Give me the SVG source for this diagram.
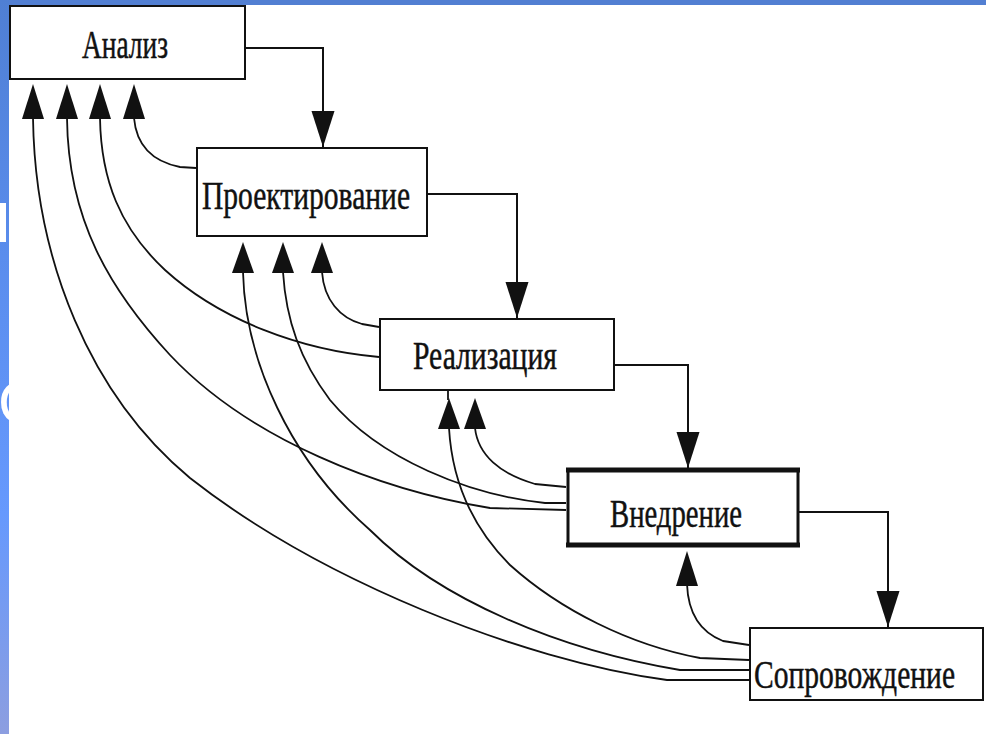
<svg xmlns="http://www.w3.org/2000/svg" width="986" height="734" viewBox="0 0 986 734">
  <style>
    .box { fill: #ffffff; stroke: #111111; stroke-width: 2; }
    .lbl { font-family: "Liberation Serif", "Times New Roman", serif; font-size: 41px; fill: #111111; stroke: #111111; stroke-width: 0.5; }
    .flow { fill: none; stroke: #111111; stroke-width: 2; }
    .back { fill: none; stroke: #111111; stroke-width: 1.8; stroke-linejoin: round; }
    .head { fill: #111111; }
  </style>
  <defs>
    <linearGradient id="stripGrad" x1="0" y1="0" x2="0" y2="1">
      <stop offset="0" stop-color="#4f7fd4"/>
      <stop offset="0.35" stop-color="#5a8ded"/>
      <stop offset="0.7" stop-color="#6699fd"/>
      <stop offset="1" stop-color="#8c9ee0"/>
    </linearGradient>
    <clipPath id="stripClip">
      <rect x="0" y="0" width="9" height="734"/>
    </clipPath>
    <!-- arrowheads: tip at origin -->
    <path id="up" d="M0,0 L-11,35 L11,35 Z"/>
    <path id="up30" d="M0,0 L-11,31 L11,31 Z"/>
    <path id="down" d="M0,0 L-11.5,-36 L11.5,-36 Z"/>
  </defs>

  <!-- slide background -->
  <rect x="0" y="0" width="986" height="734" fill="#ffffff"/>
  <rect x="0" y="0" width="986" height="5" fill="#527fd2"/>
  <rect x="0" y="0" width="9" height="734" fill="url(#stripGrad)"/>
  <g clip-path="url(#stripClip)" fill="#ffffff">
    <rect x="0" y="203" width="6" height="39"/>
    <text x="-2" y="423" font-family="Liberation Sans, Arial, sans-serif" font-size="60">С</text>
  </g>

  <!-- connectors -->
  <g id="connectors">
    <!-- forward flow -->
    <path class="flow" d="M245,48 H323 V147"/>
    <use href="#down" class="head" x="323" y="147"/>
    <path class="flow" d="M428,194 H517 V318"/>
    <use href="#down" class="head" x="517" y="318"/>
    <path class="flow" d="M615,365 H688 V468"/>
    <use href="#down" class="head" x="688" y="468"/>
    <path class="flow" d="M799,512 H888 V627"/>
    <use href="#down" class="head" x="888" y="627"/>

    <!-- returns to Анализ -->
    <path class="back" d="M196,168 L180,167 C160,163 137,152 134,118"/>
    <path class="back" d="M379,357 C300,350 220,320 165,270 C120,228 101,180 100,118"/>
    <path class="back" d="M566,510 L490,508 C380,490 250,440 170,355 C110,290 68,220 67,118"/>
    <path class="back" d="M749,680 L667,680 C520,660 320,580 190,478 C90,395 35,260 33,118"/>
    <use href="#up" class="head" x="33" y="84"/>
    <use href="#up" class="head" x="67" y="84"/>
    <use href="#up" class="head" x="100" y="84"/>
    <use href="#up" class="head" x="134" y="84"/>

    <!-- returns to Проектирование -->
    <path class="back" d="M379,327 L362,324 C340,318 324,300 322,272"/>
    <path class="back" d="M566,503 L545,503 C470,495 380,460 330,400 C300,360 286,320 283,272"/>
    <path class="back" d="M749,670 L680,670 C560,650 440,600 370,530 C290,460 245,360 243,272"/>
    <use href="#up30" class="head" x="243" y="242"/>
    <use href="#up30" class="head" x="283" y="242"/>
    <use href="#up30" class="head" x="322" y="242"/>

    <!-- returns to Реализация -->
    <path class="back" d="M448,390 V400"/>
    <path class="back" d="M749,660 L700,658 C630,645 560,610 510,565 C470,525 452,480 449,428"/>
    <path class="back" d="M566,487 L535,484 C500,474 478,455 475,428"/>
    <use href="#up30" class="head" x="449" y="398"/>
    <use href="#up30" class="head" x="475" y="398"/>

    <!-- return to Внедрение -->
    <path class="back" d="M749,645 L723,641 C700,632 688,612 687,584"/>
    <use href="#up" class="head" x="687" y="551"/>
  </g>

  <!-- nodes -->
  <g id="analysis">
    <rect class="box" x="10" y="6" width="235" height="73"/>
    <text class="lbl" x="82" y="58" textLength="86" lengthAdjust="spacingAndGlyphs">Анализ</text>
  </g>
  <g id="design">
    <rect class="box" x="197" y="148" width="230" height="88"/>
    <text class="lbl" x="202" y="209" textLength="208" lengthAdjust="spacingAndGlyphs">Проектирование</text>
  </g>
  <g id="implementation">
    <rect class="box" x="380" y="319" width="234" height="71"/>
    <text class="lbl" x="413" y="369" textLength="144" lengthAdjust="spacingAndGlyphs">Реализация</text>
  </g>
  <g id="deployment">
    <rect class="box" x="568" y="470" width="230" height="75" style="stroke-width:3"/>
    <line x1="566" y1="470" x2="800" y2="470" stroke="#111111" stroke-width="5"/>
    <line x1="566" y1="545" x2="800" y2="545" stroke="#111111" stroke-width="5"/>
    <text class="lbl" x="610" y="527" textLength="132" lengthAdjust="spacingAndGlyphs">Внедрение</text>
  </g>
  <g id="maintenance">
    <rect class="box" x="750" y="628" width="233" height="72"/>
    <text class="lbl" x="754" y="688" textLength="201" lengthAdjust="spacingAndGlyphs">Сопровождение</text>
  </g>
</svg>
